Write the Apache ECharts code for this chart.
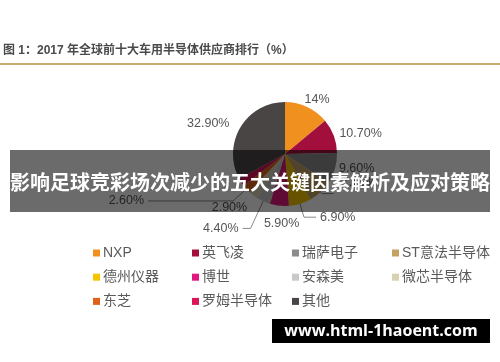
<!DOCTYPE html>
<html><head><meta charset="utf-8">
<script src="https://cdn.jsdelivr.net/npm/echarts@6/dist/echarts.min.js"></script>
<style>html,body{margin:0;padding:0;background:#fff}#c{width:500px;height:362px}</style>
</head><body><div id="c"></div>
<script>
const categories = ['NXP','英飞凌','瑞萨电子','ST意法半导体','德州仪器','博世','安森美','微芯半导体','东芝','罗姆半导体','其他'];
const shares = [14, 10.7, 9.6, 7.6, 6.9, 5.9, 4.4, 2.9, 2.6, 2.5, 32.9];
const shareLabels = ['14%','10.70%','9.60%','7.60%','6.90%','5.90%','4.40%','2.90%','2.60%','','32.90%'];
const legendColumns = [
  ['NXP','德州仪器','东芝'],
  ['英飞凌','博世','罗姆半导体'],
  ['瑞萨电子','安森美','其他'],
  ['ST意法半导体','微芯半导体']
];
const titleText = '图 1：2017 年全球前十大车用半导体供应商排行（%）';
const bannerText = '影响足球竞彩场次减少的五大关键因素解析及应对策略';
const watermarkText = 'www.html-1haoent.com';

const palette = ['#f0901e','#a30f3d','#8c8c8c','#c4a264','#f5c400','#e0187c','#c9c9c9','#d9d1b4','#e0621a','#dc1458','#4a4545'];
// per-slice label line lengths (style only)
const lineCfg = {
  0:{l:8,l2:0,hide:true}, 1:{l:6,l2:0,hide:true}, 2:{l:0,l2:0,hide:true},
  3:{l:2,l2:12}, 4:{l:14,l2:12}, 5:{l:18,l2:0,hide:true},
  6:{l:30,l2:8}, 7:{l:16,l2:0,hide:true}, 8:{l:18,l2:85},
  9:{l:0,l2:0,hide:true,noLabel:true}, 10:{l:8,l2:0,hide:true}
};
const labelShift = {0:{dx:-10}, 1:{dx:-4}, 3:{dx:4,dy:-11}, 5:{dx:26}, 7:{dx:8}};

const pieData = categories.map((name, i) => {
  const c = lineCfg[i];
  return {
    name, value: shares[i],
    label: {show: !c.noLabel},
    labelLine: {length: c.l, length2: c.l2, lineStyle: {opacity: c.hide ? 0 : 1}}
  };
});

const legends = legendColumns.map((col, k) => ({
  data: col,
  orient: 'vertical',
  left: [88, 187, 287, 387][k],
  top: 240,
  itemWidth: 7, itemHeight: 7, itemGap: 8.2,
  icon: 'rect',
  selectedMode: false,
  textStyle: {fontSize: 14, color: '#5a5a5a', lineHeight: 16, padding: [0,0,0,-2],
    fontFamily: '"Liberation Sans","Noto Sans CJK SC",sans-serif'}
}));

const chart = echarts.init(document.getElementById('c'));
chart.setOption({
  animation: false,
  color: palette,
  legend: legends,
  series: [{
    type: 'pie',
    center: [285, 154],
    radius: 52,
    startAngle: 90,
    clockwise: true,
    avoidLabelOverlap: false,
    data: pieData,
    itemStyle: {borderWidth: 0},
    label: {
      formatter: p => shareLabels[p.dataIndex],
      fontSize: 12.5, color: '#555',
      fontFamily: '"Liberation Sans",Arial,sans-serif',
      distanceToLabelLine: 4
    },
    labelLine: {lineStyle: {color: '#8a8a8a', width: 1}},
    labelLayout: p => labelShift[p.dataIndex] || {},
    emphasis: {disabled: true}
  }],
  graphic: [
    {type: 'text', left: 3, top: 45, z: 100,
     style: {text: titleText, fill: '#4a4a4a', font: 'bold 12px "Liberation Sans","Noto Sans CJK SC",sans-serif'}},
    {type: 'line', z: 100, shape: {x1: 0, y1: 64, x2: 500, y2: 64},
     style: {stroke: '#cbab75', lineWidth: 2}},
    {type: 'rect', z: 100, shape: {x: 10, y: 150, width: 480, height: 62},
     style: {fill: 'rgba(0,0,0,0.58)'}},
    {type: 'text', z: 101, x: 250, y: 182,
     style: {text: bannerText, fill: '#fff', align: 'center', verticalAlign: 'middle',
       font: 'bold 20px "Noto Sans CJK SC",sans-serif'}},
    {type: 'rect', z: 100, shape: {x: 272, y: 319, width: 218, height: 24},
     style: {fill: '#000'}},
    {type: 'text', z: 101, x: 381, y: 331,
     style: {text: watermarkText, fill: '#fff', align: 'center', verticalAlign: 'middle',
       font: 'bold 16px "Open Sans",sans-serif'}}
  ]
});
</script></body></html>
